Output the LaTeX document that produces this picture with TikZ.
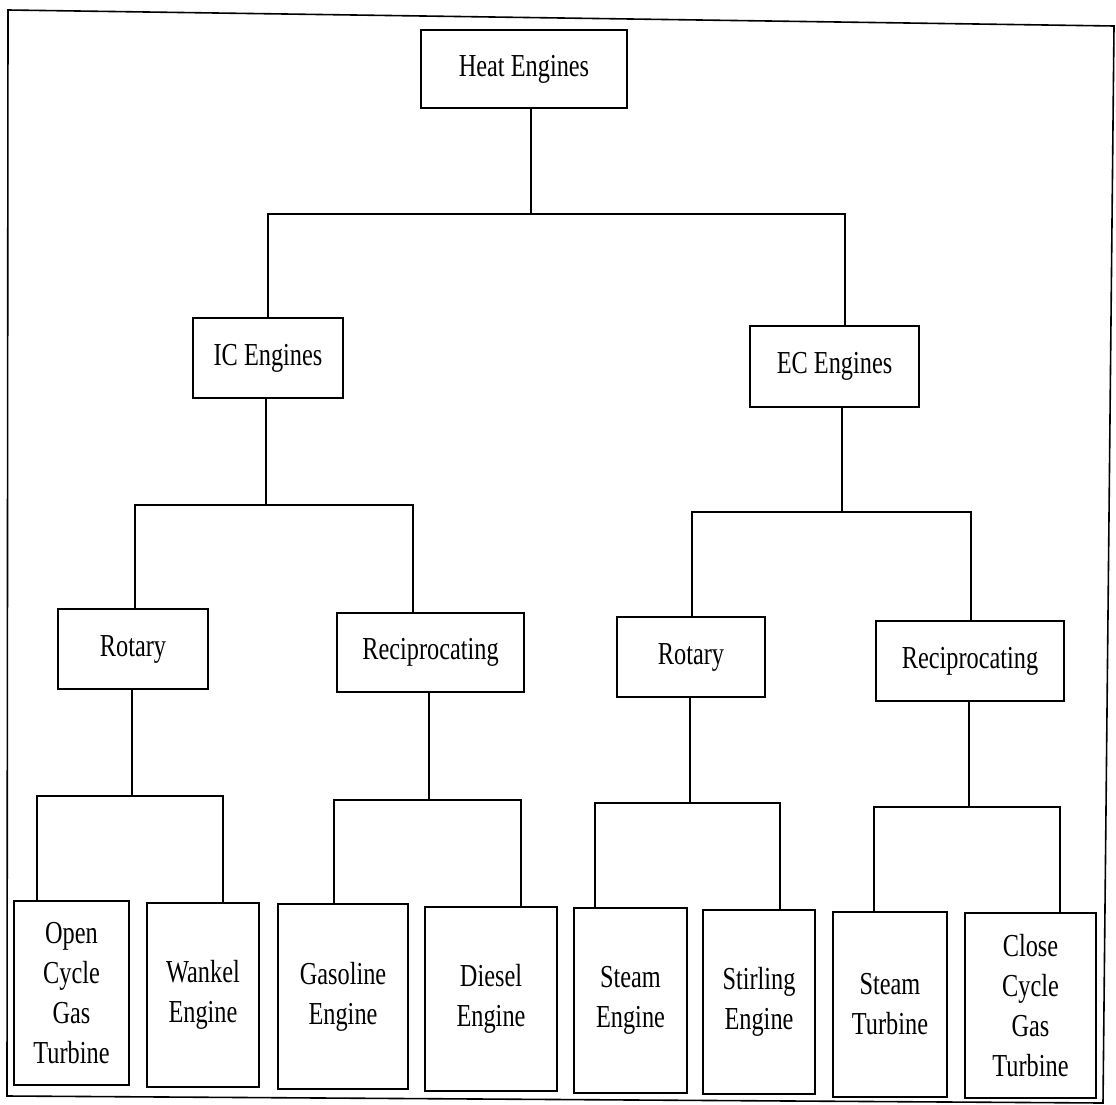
\documentclass[tikz,border=0pt]{standalone}
\usepackage{fontspec}
\setmainfont[FakeStretch=0.76]{Liberation Serif}
\begin{document}
\begin{tikzpicture}[x=1pt,y=-1pt,
  box/.style={draw,line width=1.6pt,rectangle,inner sep=0pt,align=center,
    font=\fontsize{32}{40}\selectfont},
  conn/.style={line width=1.3pt},
  frame/.style={line width=1.6pt}]
\useasboundingbox (0,0) rectangle (1116,1105);
\draw[frame] (8,10) -- (1114,26) -- (1103,1103) -- (7,1096) -- cycle;

% nodes
\node[box,minimum width=206pt,minimum height=78pt] (heat) at (524,69) {Heat Engines};
\node[box,minimum width=150pt,minimum height=80pt] (ic) at (268,358) {IC Engines};
\node[box,minimum width=169pt,minimum height=81pt] (ec) at (834.5,366.5) {EC Engines};
\node[box,minimum width=150pt,minimum height=80pt] (rotL) at (133,649) {Rotary};
\node[box,minimum width=187pt,minimum height=79pt] (recL) at (430.5,652.5) {Reciprocating};
\node[box,minimum width=148pt,minimum height=80pt] (rotR) at (691,657) {Rotary};
\node[box,minimum width=188pt,minimum height=80pt] (recR) at (970,661) {Reciprocating};
\node[box,minimum width=115pt,minimum height=184pt] (ocgt) at (71.5,993) {Open\\Cycle\\Gas\\Turbine};
\node[box,minimum width=112pt,minimum height=184pt] (wankel) at (203,995) {Wankel\\Engine};
\node[box,minimum width=130pt,minimum height=185pt] (gas) at (343,996.5) {Gasoline\\Engine};
\node[box,minimum width=132pt,minimum height=184pt] (diesel) at (491,999) {Diesel\\Engine};
\node[box,minimum width=113pt,minimum height=185pt] (steamE) at (630.5,1000.5) {Steam\\Engine};
\node[box,minimum width=112pt,minimum height=184pt] (stirling) at (759,1002) {Stirling\\Engine};
\node[box,minimum width=114pt,minimum height=185pt] (steamT) at (890,1004.5) {Steam\\Turbine};
\node[box,minimum width=131pt,minimum height=185pt] (close) at (1030.5,1005.5) {Close\\Cycle\\Gas\\Turbine};

% junction coordinates
\coordinate (s0) at (531,214);  \coordinate (a0) at (268,214);  \coordinate (b0) at (845,214);
\coordinate (s1) at (266,505);  \coordinate (a1) at (135,505);  \coordinate (b1) at (413,505);
\coordinate (s2) at (842,512);  \coordinate (a2) at (692,512);  \coordinate (b2) at (971,512);
\coordinate (s3) at (132,796);  \coordinate (a3) at (37,796);   \coordinate (b3) at (223,796);
\coordinate (s4) at (429,800);  \coordinate (a4) at (334,800);  \coordinate (b4) at (521,800);
\coordinate (s5) at (690,803);  \coordinate (a5) at (595,803);  \coordinate (b5) at (780,803);
\coordinate (s6) at (969,807);  \coordinate (a6) at (874,807);  \coordinate (b6) at (1060,807);

% connectors
\draw[conn] (s0 |- heat.south) -- (s0);
\draw[conn] (a0 |- ic.north) -- (a0) -- (b0) -- (b0 |- ec.north);
\draw[conn] (s1 |- ic.south) -- (s1);
\draw[conn] (a1 |- rotL.north) -- (a1) -- (b1) -- (b1 |- recL.north);
\draw[conn] (s2 |- ec.south) -- (s2);
\draw[conn] (a2 |- rotR.north) -- (a2) -- (b2) -- (b2 |- recR.north);
\draw[conn] (s3 |- rotL.south) -- (s3);
\draw[conn] (a3 |- ocgt.north) -- (a3) -- (b3) -- (b3 |- wankel.north);
\draw[conn] (s4 |- recL.south) -- (s4);
\draw[conn] (a4 |- gas.north) -- (a4) -- (b4) -- (b4 |- diesel.north);
\draw[conn] (s5 |- rotR.south) -- (s5);
\draw[conn] (a5 |- steamE.north) -- (a5) -- (b5) -- (b5 |- stirling.north);
\draw[conn] (s6 |- recR.south) -- (s6);
\draw[conn] (a6 |- steamT.north) -- (a6) -- (b6) -- (b6 |- close.north);
\end{tikzpicture}
\end{document}
